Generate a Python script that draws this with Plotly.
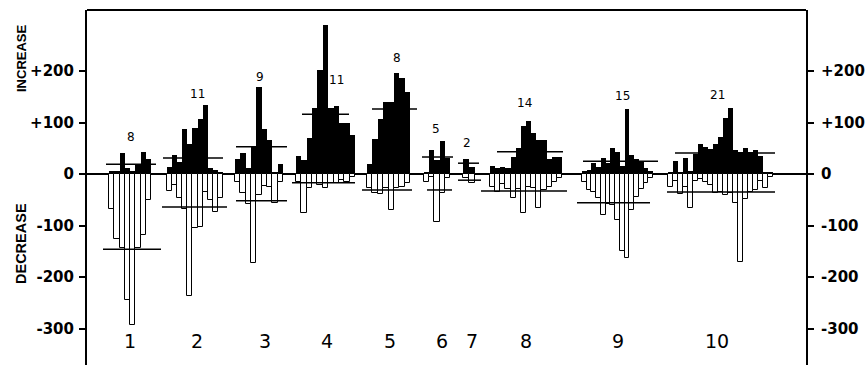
import plotly.graph_objects as go

# ---------------- data ----------------
groups = ["1", "2", "3", "4", "5", "6", "7", "8", "9", "10"]

inc_g1 = [5, 6, 41, 12, 5, 20, 43, 29]
inc_g2 = [14, 37, 24, 87, 58, 90, 107, 134, 12, 8, 3]
inc_g3 = [29, 41, 12, 54, 169, 87, 66, 2, 19]
inc_g4 = [35, 27, 70, 128, 202, 289, 128, 132, 99, 99, 75]
inc_g5 = [19, 68, 106, 140, 140, 196, 186, 159]
inc_g6 = [4, 46, 27, 64, 31]
inc_g7 = [29, 14]
inc_g8 = [16, 12, 14, 11, 33, 51, 94, 103, 80, 66, 66, 29, 33, 33]
inc_g9 = [6, 8, 21, 14, 31, 22, 50, 43, 15, 126, 37, 29, 25, 12, 5]
inc_g10 = [2, 25, 3, 31, 5, 38, 58, 53, 49, 58, 72, 109, 128, 47, 43, 51, 43, 47, 35, 4, 2]

dec_g1 = [-68, -126, -144, -244, -293, -144, -118, -50]
dec_g2 = [-33, -21, -47, -68, -237, -105, -103, -35, -50, -73, -47]
dec_g3 = [-15, -36, -58, -173, -40, -23, -25, -56, -15]
dec_g4 = [-15, -76, -27, -17, -21, -27, -17, -17, -12, -15, -5]
dec_g5 = [-27, -37, -38, -27, -70, -27, -25, -17]
dec_g6 = [-15, -5, -93, -37, -8]
dec_g7 = [-8, -17]
dec_g8 = [-25, -35, -20, -30, -47, -30, -76, -25, -27, -66, -32, -25, -15, -8]
dec_g9 = [-15, -31, -35, -47, -80, -58, -60, -89, -150, -164, -70, -44, -29, -17, -8]
dec_g10 = [-25, -14, -39, -25, -66, -14, -10, -15, -22, -36, -35, -40, -36, -56, -171,
           -49, -34, -31, -14, -27, -5]

inc_mean = [19, 31, 53, 116, 126, 33, 21, 43, 25, 41]
dec_mean = [-146, -64, -52, -17, -31, -31, -12, -33, -56, -35]

y_ticks = [200, 100, 0, -100, -200, -300]
y_tick_labels = ["+200", "+100", "0", "-100", "-200", "-300"]

increase = [inc_g1, inc_g2, inc_g3, inc_g4, inc_g5, inc_g6, inc_g7, inc_g8, inc_g9, inc_g10]
decrease = [dec_g1, dec_g2, dec_g3, dec_g4, dec_g5, dec_g6, dec_g7, dec_g8, dec_g9, dec_g10]

# ---------------- layout (positions, in horizontal screen units) ----------------
W, H = 865, 365
ML, MR, MT, MB = 87, 59, 10, 0
ZERO_PX, PX_PER_UNIT = 174, 0.515


def yv(py):
    return (ZERO_PX - py) / PX_PER_UNIT


group_left = [109, 167, 235, 296, 367, 424, 463, 490, 582, 668]
group_right = [151, 223, 283, 355, 410, 450, 475, 562, 653, 773]
inc_line_x0 = [106, 163, 236, 302, 372, 422, 458, 497, 583, 675]
inc_line_x1 = [156, 223, 287, 349, 417, 453, 479, 563, 658, 775]
dec_line_x0 = [103, 162, 236, 292, 362, 427, 458, 481, 577, 667]
dec_line_x1 = [161, 227, 287, 355, 412, 452, 481, 567, 650, 775]
n_label_pos = [(131, 137), (197, 94), (260, 77), (336, 80), (397, 58),
               (436, 129), (467, 143), (524, 103), (622, 96), (717, 95)]
group_label_x = [130, 197, 265, 327, 390, 442, 472, 526, 618, 717]
group_label_y = 341

xs, widths, inc_all, dec_all = [], [], [], []
for g in range(len(groups)):
    n = len(increase[g])
    w = (group_right[g] - group_left[g]) / n
    for i in range(n):
        xs.append(group_left[g] + (i + 0.5) * w)
        widths.append(w)
        inc_all.append(increase[g][i])
        dec_all.append(decrease[g][i])

fig = go.Figure()
fig.add_trace(go.Bar(x=xs, y=inc_all, width=widths, marker=dict(color="black", line=dict(width=0)),
                     name="Increase", showlegend=False))
fig.add_trace(go.Bar(x=xs, y=dec_all, width=widths,
                     marker=dict(color="white", line=dict(color="black", width=1)),
                     name="Decrease", showlegend=False))

lx, ly = [], []
for g in range(len(groups)):
    lx += [inc_line_x0[g], inc_line_x1[g], None, dec_line_x0[g], dec_line_x1[g], None]
    ly += [inc_mean[g], inc_mean[g], None, dec_mean[g], dec_mean[g], None]
fig.add_trace(go.Scatter(x=lx, y=ly, mode="lines", line=dict(color="black", width=1.5),
                         showlegend=False, hoverinfo="skip", yaxis="y2"))

yr = [yv(H - MB), yv(MT)]
tickfont = dict(family="DejaVu Sans, sans-serif", size=15, color="black", weight="bold")
plot_w = W - ML - MR

annotations = []
for g in range(len(groups)):
    px, py = n_label_pos[g]
    annotations.append(dict(x=px, y=yv(py), xref="x", yref="y", text=str(len(increase[g])),
                            showarrow=False, font=dict(family="DejaVu Sans", size=12,
                                                        color="black")))
    annotations.append(dict(x=group_label_x[g], y=yv(group_label_y), xref="x", yref="y",
                            text=groups[g], showarrow=False,
                            font=dict(family="DejaVu Sans", size=19, color="black")))
annotations.append(dict(x=(21 - ML) / plot_w, y=yv(58), xref="paper", yref="y", text="INCREASE",
                        textangle=-90, showarrow=False, xanchor="center",
                        font=dict(family="Liberation Sans, Arial", size=13, color="black",
                                  weight="bold")))
annotations.append(dict(x=(21 - ML) / plot_w, y=yv(244), xref="paper", yref="y", text="DECREASE",
                        textangle=-90, showarrow=False, xanchor="center",
                        font=dict(family="Liberation Sans, Arial", size=14.5, color="black",
                                  weight="bold")))

fig.update_layout(
    width=W, height=H,
    margin=dict(l=ML, r=MR, t=MT, b=MB, pad=0),
    paper_bgcolor="white", plot_bgcolor="white",
    barmode="overlay", bargap=0,
    xaxis=dict(range=[ML, W - MR], showgrid=False, zeroline=False, showticklabels=False,
               ticks="", showline=False, fixedrange=True),
    yaxis=dict(range=yr, tickvals=y_ticks, ticktext=y_tick_labels, ticks="outside", ticklen=6,
               tickwidth=2, tickcolor="black", showline=True, linewidth=2, linecolor="black",
               showgrid=False, zeroline=True, zerolinecolor="black", zerolinewidth=2,
               tickfont=tickfont, ticklabelstandoff=2),
    yaxis2=dict(range=yr, overlaying="y", side="right", tickvals=y_ticks, ticktext=y_tick_labels,
                ticks="outside", ticklen=6, tickwidth=2, tickcolor="black", showline=True,
                linewidth=2, linecolor="black", showgrid=False, zeroline=False,
                tickfont=tickfont, ticklabelstandoff=4),
    shapes=[dict(type="line", xref="paper", yref="paper", x0=0, x1=1, y0=1, y1=1,
                 line=dict(color="black", width=2))],
    annotations=annotations,
)

fig.write_html("out.html", config={"displayModeBar": False},
               post_script="document.body.style.margin='0';")
